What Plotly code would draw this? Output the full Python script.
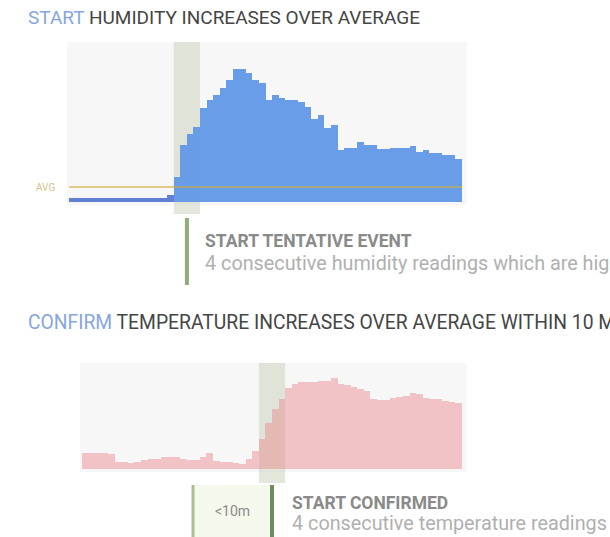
import plotly.graph_objects as go

W, H = 610, 537

# ---------------- data ----------------
humidity_reading = list(range(60))
humidity = [4, 4, 4, 4, 4, 4, 4, 4, 4, 4, 4, 4, 4, 4, 4, 7,
            25, 57, 68, 75, 94, 102, 107, 114, 122, 133, 133, 129, 122, 119,
            102, 107, 104, 102, 102, 100, 95, 83, 87, 74, 77,
            52, 54, 54, 60, 57, 57, 53, 53, 54, 54, 54, 56, 50, 52, 49, 49, 47, 47, 43]
humidity_avg = 15

temperature_reading = list(range(58))
temperature = [16, 16, 16, 16, 15, 7, 7, 6, 7, 9, 10, 10, 12, 12, 12, 10, 9, 9, 12, 16,
               8, 7, 7, 6, 5, 10, 18, 30, 46, 60, 70, 81, 85, 87, 87, 87, 88, 88, 91,
               85, 84, 82, 80, 78, 70, 69, 69, 71, 72, 73, 76, 75, 71, 70, 70, 68, 67, 66]

humidity_event = [16, 19]      # first / last reading of the 4 consecutive high readings
temperature_event = [27, 30]

title1_accent, title1_rest = "START", "HUMIDITY INCREASES OVER AVERAGE"
title2_accent, title2_rest = "CONFIRM", "TEMPERATURE INCREASES OVER AVERAGE WITHIN 10 MINUTES"
note1_head, note1_body = "START TENTATIVE EVENT", "4 consecutive humidity readings which are higher than average"
note2_head, note2_body = "START CONFIRMED", "4 consecutive temperature readings"
window_label = "&lt;10m"
avg_label = "AVG"

# ---------------- helpers ----------------
def px(x):
    return x / W

def py(y):
    return 1 - y / H

FONT = "Roboto, Arial, sans-serif"

blue = "rgba(98,152,231,0.95)"
blue_low = "rgba(90,120,212,0.95)"
h_colors = [blue_low if v < humidity_avg else blue for v in humidity]

fig = go.Figure()
fig.add_trace(go.Bar(x=humidity_reading, y=humidity, marker=dict(color=h_colors, line=dict(width=0)),
                     xaxis="x", yaxis="y", hoverinfo="skip"))
fig.add_trace(go.Bar(x=temperature_reading, y=temperature,
                     marker=dict(color="rgba(236,118,124,0.40)", line=dict(width=0)),
                     xaxis="x2", yaxis="y2", hoverinfo="skip"))

ax_common = dict(showgrid=False, zeroline=False, showticklabels=False, ticks="", showline=False, fixedrange=True)
fig.update_layout(
    width=W, height=H, margin=dict(l=0, r=0, t=0, b=0),
    paper_bgcolor="white", plot_bgcolor="rgba(0,0,0,0)",
    showlegend=False, bargap=0,
    xaxis=dict(domain=[px(69), px(462)], range=[-0.5, len(humidity) - 0.5], anchor="y", **ax_common),
    yaxis=dict(domain=[py(202), py(42)], range=[0, 160], anchor="x", **ax_common),
    xaxis2=dict(domain=[px(82), px(462)], range=[-0.5, len(temperature) - 0.5], anchor="y2", **ax_common),
    yaxis2=dict(domain=[py(469), py(363)], range=[0, 106], anchor="x2", **ax_common),
)

shapes = []
# panel backgrounds
shapes.append(dict(type="rect", xref="paper", yref="paper", x0=px(67), x1=px(467), y0=py(205), y1=py(42),
                   fillcolor="#f7f7f7", line=dict(width=0), layer="below"))
shapes.append(dict(type="rect", xref="paper", yref="paper", x0=px(80), x1=px(467), y0=py(472), y1=py(363),
                   fillcolor="#f7f7f7", line=dict(width=0), layer="below"))
# event bands
shapes.append(dict(type="rect", xref="x", yref="paper", x0=humidity_event[0] - 0.5, x1=humidity_event[1] + 0.5,
                   y0=py(214), y1=py(42), fillcolor="rgba(205,213,192,0.55)", line=dict(width=0), layer="below"))
shapes.append(dict(type="rect", xref="x2", yref="paper", x0=temperature_event[0] - 0.5, x1=temperature_event[1] + 0.5,
                   y0=py(483), y1=py(363), fillcolor="rgba(205,213,192,0.55)", line=dict(width=0), layer="below"))
# average line
shapes.append(dict(type="line", xref="x", yref="y", x0=-0.5, x1=len(humidity) - 0.5, y0=humidity_avg, y1=humidity_avg,
                   line=dict(color="rgba(206,172,62,0.6)", width=2), layer="above"))
# event marker lines
h_mid = (humidity_event[0] + humidity_event[1]) / 2
t_mid = (temperature_event[0] + temperature_event[1]) / 2
shapes.append(dict(type="line", xref="x", yref="paper", x0=h_mid, x1=h_mid, y0=py(285), y1=py(218),
                   line=dict(color="#8fac7c", width=4)))
shapes.append(dict(type="rect", xref="paper", yref="paper", x0=px(193), x1=px(272), y0=py(537), y1=py(485),
                   fillcolor="#f5f8ec", line=dict(width=0), layer="below"))
shapes.append(dict(type="line", xref="paper", yref="paper", x0=px(193), x1=px(193), y0=py(537), y1=py(485),
                   line=dict(color="#a9c094", width=3)))
shapes.append(dict(type="line", xref="x2", yref="paper", x0=t_mid, x1=t_mid, y0=py(537), y1=py(485),
                   line=dict(color="#6e8c5f", width=4)))
fig.update_layout(shapes=shapes)

ann = []
def text(x, y, s, size, color, anchor="left", bold=False):
    if bold:
        s = "<b>" + s + "</b>"
    ann.append(dict(xref="paper", yref="paper", x=px(x), y=py(y), text=s, showarrow=False,
                    xanchor=anchor, yanchor="middle", font=dict(family=FONT, size=size, color=color)))

text(26, 17, f"<span style='color:#86a6e0'>{title1_accent}</span> {title1_rest}", 19, "#454545")
text(26, 322, f"<span style='color:#86a6e0'>{title2_accent}</span> {title2_rest}", 19.3, "#454545")
text(203, 241, note1_head, 17.5, "#8a8a8a", bold=True)
text(203, 264, note1_body, 19.8, "#b0b0b0")
text(290, 503, note2_head, 17.5, "#8a8a8a", bold=True)
text(290, 523, note2_body, 19.8, "#b0b0b0")
text(232, 511, window_label, 14, "#8a8a8a", anchor="center")
ann.append(dict(xref="paper", yref="y", x=px(57), y=humidity_avg, text=avg_label, showarrow=False,
                xanchor="right", yanchor="middle", font=dict(family=FONT, size=10, color="#d6c28c")))
fig.update_layout(annotations=ann)

fig.write_html("out.html", config={"displayModeBar": False},
               post_script="document.body.style.margin='0';document.body.style.overflow='hidden';")
